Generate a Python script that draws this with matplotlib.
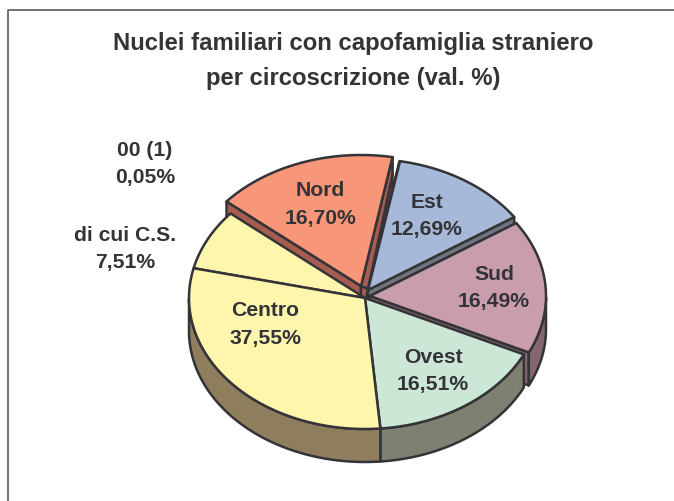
import numpy as np
import matplotlib
matplotlib.use("Agg")
import matplotlib.pyplot as plt
from matplotlib.patches import Polygon

plt.rcParams['font.family'] = ['Liberation Sans', 'DejaVu Sans']

# Data: clockwise from the bottom of the pie
slices = ["Centro", "di cui C.S.", "Nord", "00 (1)", "Est", "Sud", "Ovest"]
values = [30.04, 7.51, 16.70, 0.05, 12.69, 16.49, 16.51]
title_lines = ["Nuclei familiari con capofamiglia straniero", "per circoscrizione (val. %)"]
label_text = ["Centro\n37,55%", "di cui C.S.\n7,51%", "Nord\n16,70%", "00 (1)\n0,05%",
              "Est\n12,69%", "Sud\n16,49%", "Ovest\n16,51%"]

# Styling / geometry
top_cols = ["#FFF6AE", "#FFF6AE", "#F79679", "#FFFFFF", "#A6B9D8", "#C99DAE", "#CDE7D6"]
side_cols = ["#8F7E5D", "#8F7E5D", "#A65C50", "#808080", "#6F7580", "#84666E", "#7E8172"]
offsets = [(0, 0), (0, 0), (-4, -12), (3, -8), (3, -8), (5, -2), (0, 0)]
label_pos = [(265, 324.5), (125, 249), (320, 204.5), (145, 164), (427, 216), (494, 288),
             (433, 371)]
draw_order = [2, 3, 4, 5, 6, 1, 0]
CX, CY, A, B, DEPTH, START = 365, 298, 176, 131, 33, 275
EDGE, LW = "#333338", 1.8

fig = plt.figure(figsize=(6.74, 5.01), dpi=100)
ax = fig.add_axes([0, 0, 1, 1])
ax.set_xlim(0, 674)
ax.set_ylim(501, 0)
ax.axis("off")

ax.plot([8, 8, 674], [501, 9.5, 9.5], color="#666666", lw=1.3, clip_on=False)

spans = np.array(values) / 100 * 360
bounds = START - np.concatenate([[0], np.cumsum(spans)])


def arc(a0, a1, off):
    t = np.radians(np.linspace(a0, a1, 80))
    return np.column_stack([CX + off[0] + A * np.cos(t), CY + off[1] - B * np.sin(t)])


def add(pts, fc):
    ax.add_patch(Polygon(pts, closed=True, fc=fc, ec=EDGE, lw=LW, joinstyle="round"))


for i in draw_order:
    a0, a1, off = bounds[i], bounds[i + 1], offsets[i]
    pts = arc(a0, a1, off)
    tip = np.array([CX + off[0], CY + off[1]])
    down = np.array([0, DEPTH])
    if i in (2, 4, 5):  # exploded slices expose their cut faces
        for corner in (pts[0], pts[-1]):
            add(np.array([tip, corner, corner + down, tip + down]), side_cols[i])
    if i == 2:  # perspective makes the far cut face of Nord show on its right
        c = pts[-1]
        add(np.array([tip, c, c + (0, 18), tip + (7, 3)]), side_cols[i])
    # outer wall: only the part of the rim that faces the viewer
    t = np.linspace(a0, a1, 80)
    vis = pts[np.sin(np.radians(t)) <= 0]
    if len(vis) > 1:
        add(np.vstack([vis, (vis + down)[::-1]]), side_cols[i])
    add(np.vstack([tip, pts]), top_cols[i])

for txt, (x, y) in zip(label_text, label_pos):
    ax.text(x, y, txt, ha="center", va="center", fontsize=15.2, fontweight="bold",
            color=EDGE, linespacing=1.55)

ax.text(353, 61, "\n".join(title_lines), ha="center", va="center", fontsize=17.2,
        fontweight="bold", color=EDGE, linespacing=1.68)

fig.savefig("out.png", dpi=100)
